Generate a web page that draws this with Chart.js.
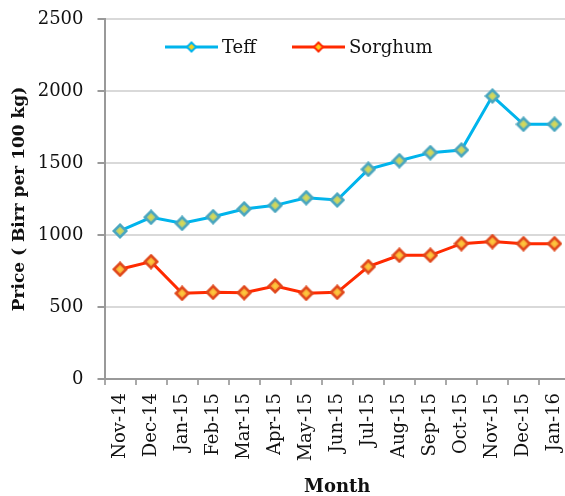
<!DOCTYPE html>
<html>
<head>
<meta charset="utf-8">
<script src="https://cdn.jsdelivr.net/npm/chart.js@4"></script>
<style>
html,body{margin:0;padding:0;overflow:hidden;background:#fff;}
#wrap{width:570px;height:496px;position:relative;}
</style>
</head>
<body>
<div id="wrap"><canvas id="c" width="570" height="496"></canvas></div>
<script>
const months = ["Nov-14","Dec-14","Jan-15","Feb-15","Mar-15","Apr-15","May-15","Jun-15","Jul-15","Aug-15","Sep-15","Oct-15","Nov-15","Dec-15","Jan-16"];
const teff = [1028,1123,1081,1127,1181,1206,1259,1243,1456,1516,1572,1590,1965,1769,1769];
const sorghum = [762,815,595,602,599,646,595,602,780,859,859,940,954,940,940];
const yTicks = [0,500,1000,1500,2000,2500];
const seriesNames = ["Teff","Sorghum"];
const lineColors = ["#00b4ec","#ff2a00"];
const FAM = '"DejaVu Serif", serif';

function diamond(size, border, inner, outer, bw){
  const cv = document.createElement('canvas');
  cv.width = size; cv.height = size;
  const g = cv.getContext('2d');
  const h = size/2, r = h - bw/2 - 0.5;
  const grad = g.createRadialGradient(h,h,0,h,h,r);
  grad.addColorStop(0, inner);
  grad.addColorStop(1, outer);
  g.beginPath();
  g.moveTo(h, h-r); g.lineTo(h+r, h); g.lineTo(h, h+r); g.lineTo(h-r, h); g.closePath();
  g.fillStyle = grad; g.fill();
  g.lineWidth = bw; g.strokeStyle = border; g.stroke();
  return cv;
}
const teffPt = diamond(16, "#4aa6bf", "#e4dc4a", "#8cc3a0", 2.5);
const sorPt = diamond(16, "#e0481c", "#ffd040", "#f59030", 2.5);
const teffLeg = diamond(12, "#00b4ec", "#f4d21a", "#f0d030", 2);
const sorLeg = diamond(12, "#ff2a00", "#ffd21a", "#ffc020", 2);
const legImgs = [teffLeg, sorLeg];

const customLegend = {
  id: 'customLegend',
  afterDraw(chart){
    const ctx = chart.ctx;
    const starts = [165, 292];
    const y = 47;
    ctx.save();
    chart.data.datasets.forEach((ds, i) => {
      const x0 = starts[i];
      ctx.strokeStyle = ds.borderColor; ctx.lineWidth = 3;
      ctx.beginPath(); ctx.moveTo(x0, y); ctx.lineTo(x0+53, y); ctx.stroke();
      const im = legImgs[i];
      ctx.drawImage(im, x0+26.5-im.width/2, y-im.height/2);
      ctx.fillStyle = '#111';
      ctx.font = '18px "DejaVu Serif"';
      ctx.textBaseline = 'middle';
      ctx.fillText(ds.label, x0+57, y+1);
    });
    ctx.restore();
  }
};

new Chart(document.getElementById('c'), {
  type: 'line',
  data: {
    labels: months,
    datasets: [
      {label: seriesNames[0], data: teff, borderColor: lineColors[0], borderWidth: 3, pointStyle: teffPt, pointRadius: 8, tension: 0},
      {label: seriesNames[1], data: sorghum, borderColor: lineColors[1], borderWidth: 3, pointStyle: sorPt, pointRadius: 8, tension: 0}
    ]
  },
  options: {
    responsive: false,
    animation: false,
    devicePixelRatio: 1,
    layout: {autoPadding: false, padding: {top: 19, right: 0, left: 0, bottom: 0}},
    plugins: {legend: {display: false}, tooltip: {enabled: false}},
    scales: {
      x: {
        offset: true,
        grid: {display: true, drawOnChartArea: false, drawTicks: true, tickLength: 6, color: '#aaa', tickColor: '#aaa', lineWidth: 2, offset: true},
        border: {display: true, color: '#999', width: 2},
        ticks: {maxRotation: 90, minRotation: 90, padding: 8, color: '#111', font: {family: FAM, size: 18}},
        title: {display: true, text: 'Month', color: '#111', font: {family: FAM, size: 18, weight: 'bold', lineHeight: 1.0}, padding: {top: 0, bottom: 0}},
        afterFit(s){ s.height = 117; s.paddingLeft = 0; s.paddingRight = 0; }
      },
      y: {
        min: 0, max: 2500,
        afterBuildTicks(s){ s.ticks = yTicks.map(v => ({value: v})); },
        grid: {color: '#d9d9d9', lineWidth: 2, tickLength: 7, tickColor: '#999', drawTicks: true},
        border: {display: true, color: '#999', width: 2},
        ticks: {padding: 14, color: '#111', font: {family: FAM, size: 18}, callback: v => String(v)},
        title: {display: true, text: 'Price ( Birr per 100 kg)', color: '#111', font: {family: FAM, size: 17, weight: 'bold'}, padding: {top: 9, bottom: 0}},
        afterFit(s){ s.width = 104.5; s.paddingTop = 0; s.paddingBottom = 0; }
      }
    }
  },
  plugins: [customLegend]
});
</script>
</body>
</html>
